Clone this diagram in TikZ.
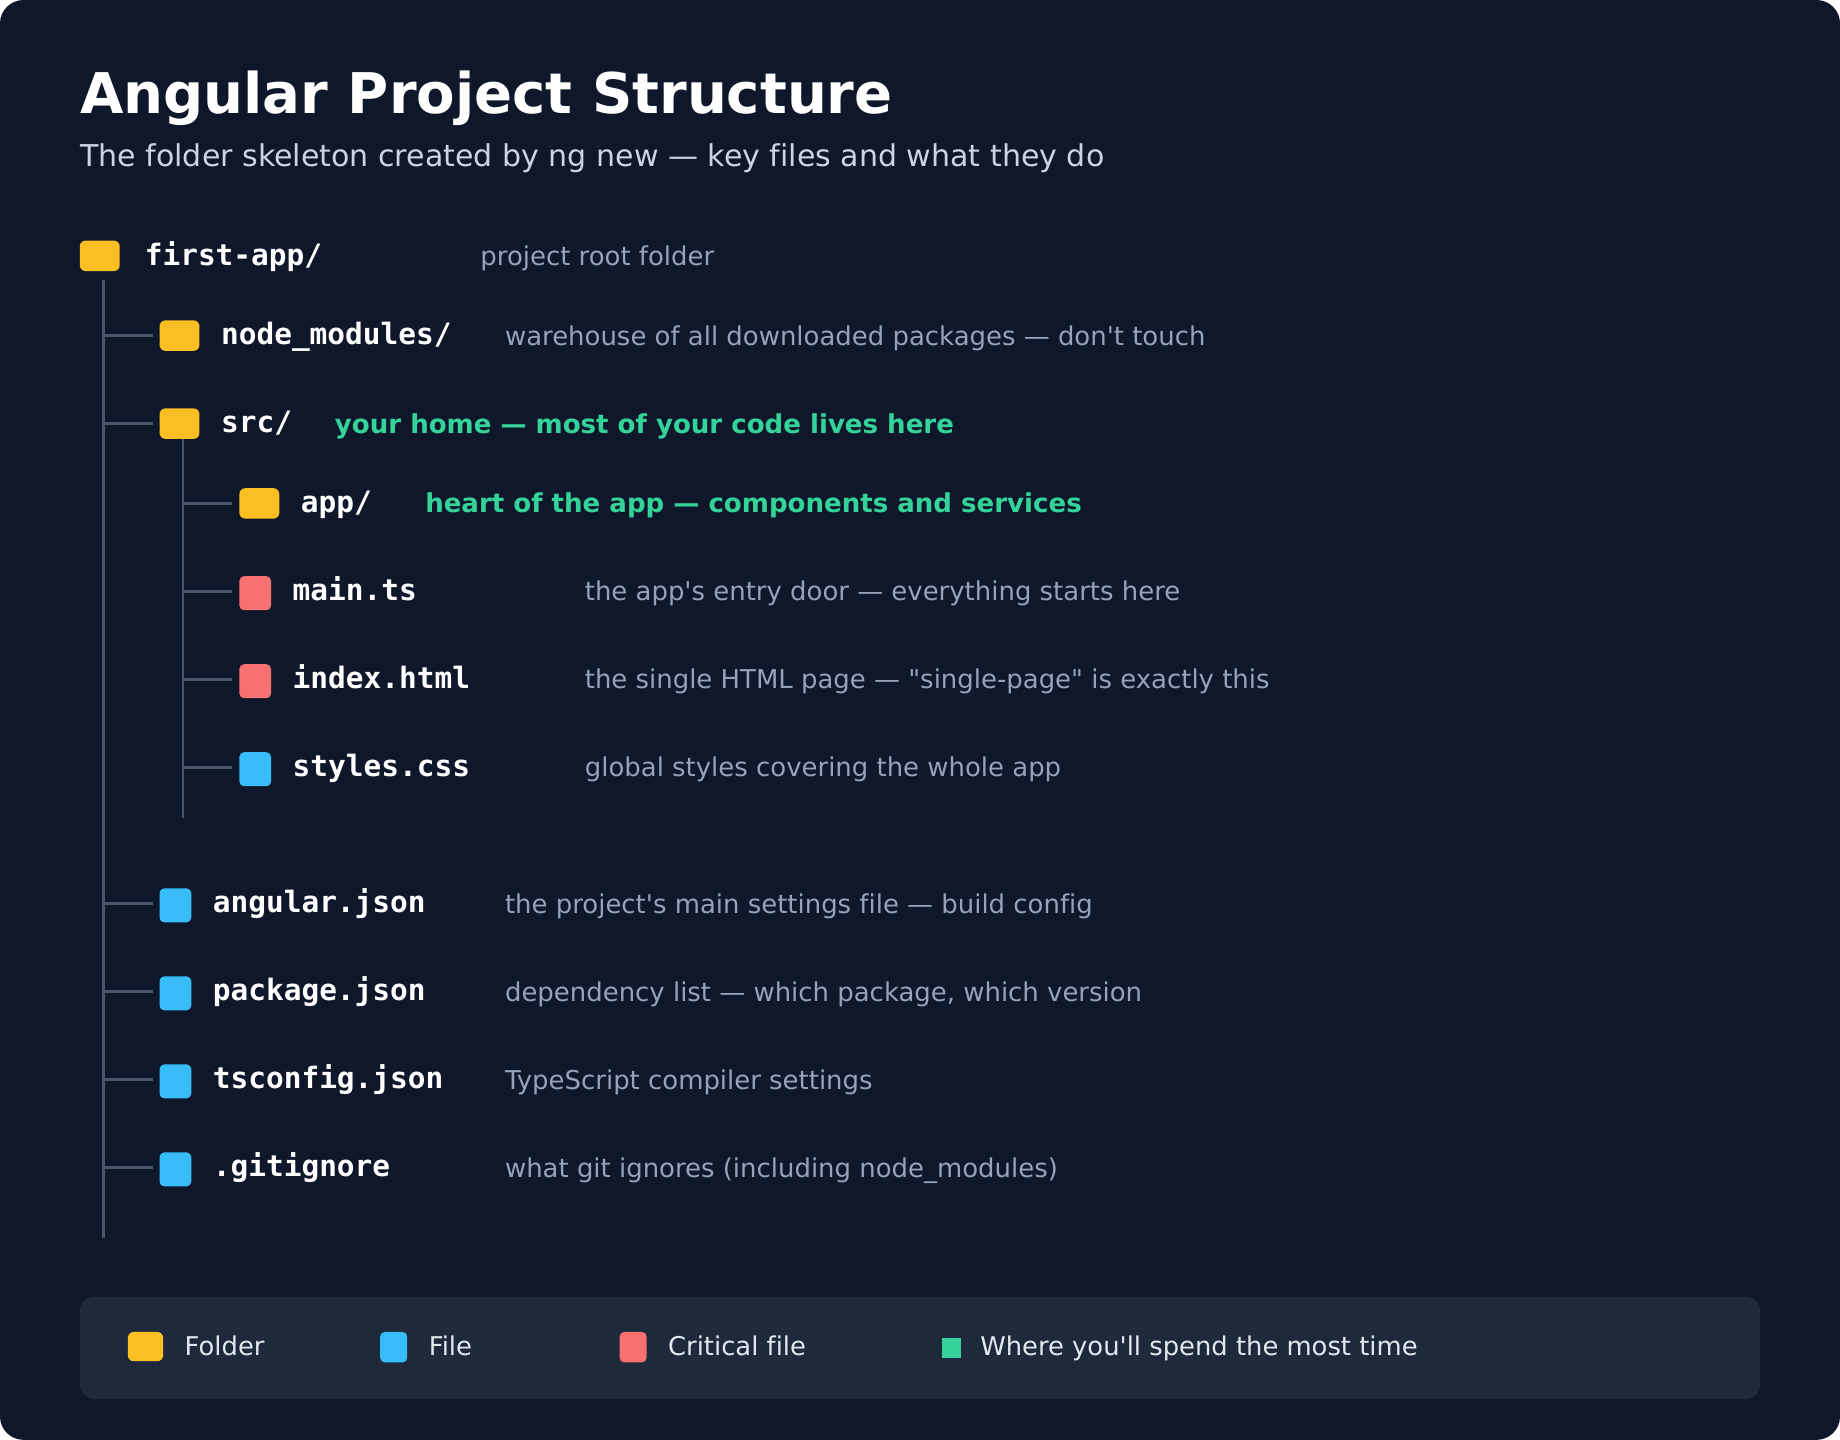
\documentclass[tikz,border=0pt]{standalone}
\usepackage{fontspec}
\setmainfont{DejaVu Sans}[Ligatures={NoCommon,TeXOff}]
\newfontfamily\monob{DejaVu Sans Mono}
\definecolor{bg}{HTML}{0F172A}
\definecolor{panel}{HTML}{1E293B}
\definecolor{fold}{HTML}{FBBF24}
\definecolor{filec}{HTML}{38BDF8}
\definecolor{crit}{HTML}{F87171}
\definecolor{hot}{HTML}{34D399}
\definecolor{notec}{HTML}{94A3B8}
\definecolor{sub}{HTML}{CBD5E1}
\definecolor{leg}{HTML}{E2E8F0}
\definecolor{treel}{HTML}{475569}
\begin{document}
\begin{tikzpicture}[x=0.5pt,y=-0.5pt,
  folder/.style={fill=fold,rounded corners=2.5pt,draw=none},
  fileb/.style={fill=filec,rounded corners=2pt,draw=none},
  critb/.style={fill=crit,rounded corners=2pt,draw=none},
  fname/.style={anchor=mid west,yshift=-1.2pt,inner sep=0,text=white,font=\monob\bfseries\fontsize{12.55}{14}\selectfont},
  fnote/.style={anchor=mid west,yshift=-1.3pt,inner sep=0,text=notec,font=\fontsize{11.05}{13}\selectfont},
  hotn/.style={anchor=mid west,yshift=-1.3pt,inner sep=0,text=hot,font=\bfseries\fontsize{11.1}{13}\selectfont},
  legt/.style={anchor=mid west,yshift=-1.3pt,inner sep=0,text=leg,font=\fontsize{11}{13}\selectfont},
  tree/.style={draw=treel,line width=1.2pt}]
\useasboundingbox (0,0) rectangle (1568,1227);
\fill[white] (0,0) rectangle (1568,1227);
\fill[bg,rounded corners=10pt] (0,0) rectangle (1568,1227);
\node[anchor=base west,inner sep=0,text=white,font=\bfseries\fontsize{23.9}{26}\selectfont] (title) at (68,97) {Angular Project Structure};
\node[anchor=base west,inner sep=0,text=sub,font=\fontsize{12.8}{14}\selectfont] (subt) at (68,142) {The folder skeleton created by ng new — key files and what they do};
% root
\fill[folder] (68,205) rectangle (102,231);
\node[fname] (root) at (123,218) {first-app/};
\node[fnote] at (409,218) {project root folder};
\coordinate (v1t) at (88,239); \coordinate (v1b) at (88,1055);
\draw[tree] (v1t) -- (v1b);
\foreach \y in {286,361,770,845,920,995} \draw[tree] (88,\y) -- (130,\y);
\fill[folder] (136,273) rectangle (170,299);
\node[fname] at (188,286) {node\_modules/};
\node[fnote] at (430,286) {warehouse of all downloaded packages — don't touch};
\fill[folder] (136,348) rectangle (170,374);
\node[fname] at (188,361) {src/};
\node[hotn] at (285,361) {your home — most of your code lives here};
\draw[tree] (156,374) -- (156,697);
\foreach \y in {429,504,579,654} \draw[tree] (156,\y) -- (198,\y);
\fill[folder] (204,416) rectangle (238,442);
\node[fname] at (256,429) {app/};
\node[hotn] at (362,429) {heart of the app — components and services};
\fill[critb] (204,491) rectangle (231,520);
\node[fname] at (249,504) {main.ts};
\node[fnote] at (498,504) {the app's entry door — everything starts here};
\fill[critb] (204,566) rectangle (231,595);
\node[fname] at (249,579) {index.html};
\node[fnote] at (498,579) {the single HTML page — "single-page" is exactly this};
\fill[fileb] (204,641) rectangle (231,670);
\node[fname] at (249,654) {styles.css};
\node[fnote] at (498,654) {global styles covering the whole app};
\fill[fileb] (136,757) rectangle (163,786);
\node[fname] at (181,770) {angular.json};
\node[fnote] at (430,770) {the project's main settings file — build config};
\fill[fileb] (136,832) rectangle (163,861);
\node[fname] at (181,845) {package.json};
\node[fnote] at (430,845) {dependency list — which package, which version};
\fill[fileb] (136,907) rectangle (163,936);
\node[fname] at (181,920) {tsconfig.json};
\node[fnote] at (430,920) {TypeScript compiler settings};
\fill[fileb] (136,982) rectangle (163,1011);
\node[fname] at (181,995) {.gitignore};
\node[fnote] at (430,995) {what git ignores (including node\_modules)};
% legend
\fill[panel,rounded corners=6pt] (68,1105) rectangle (1500,1192);
\fill[folder] (109,1135) rectangle (139,1160);
\node[legt] at (157,1147) {Folder};
\fill[fileb] (324,1135) rectangle (347,1161);
\node[legt] at (365,1147) {File};
\fill[critb] (528,1135) rectangle (551,1161);
\node[legt] at (569,1147) {Critical file};
\fill[hot] (803,1140) rectangle (819,1157);
\node[legt] at (835,1147) {Where you'll spend the most time};
\end{tikzpicture}
\end{document}
